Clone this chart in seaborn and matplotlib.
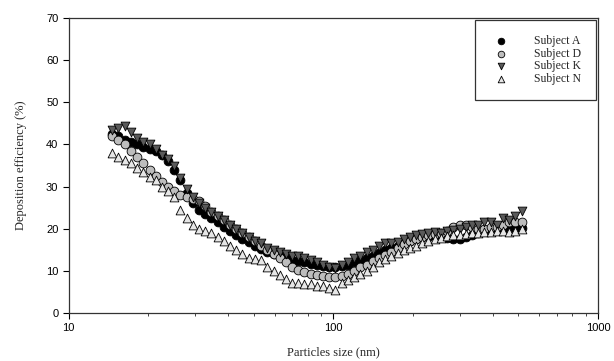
import pandas as pd
import seaborn as sns
import matplotlib.pyplot as plt
from matplotlib.ticker import FixedLocator, FixedFormatter, NullFormatter, LogLocator

# particle sizes (nm)
size_nm = [14.6, 15.4, 16.3, 17.2, 18.1, 19.1, 20.2, 21.3, 22.5, 23.7,
           25.0, 26.4, 27.9, 29.4, 31.1, 32.8, 34.6, 36.5, 38.5, 40.6,
           42.9, 45.3, 47.8, 50.4, 53.3, 56.2, 59.4, 62.6, 66.1, 69.8,
           73.7, 77.7, 82.0, 86.6, 91.4, 96.5, 101.8, 107.5, 113.4, 119.7,
           126.3, 133.4, 140.7, 148.6, 156.8, 165.5, 174.7, 184.4, 194.6, 205.4,
           216.7, 228.7, 241.4, 254.8, 268.9, 283.9, 299.6, 316.2, 333.8, 352.3,
           371.8, 392.4, 414.2, 437.1, 461.4, 487.0, 514.0]

subject_a = [42.5, 42.0, 41.0, 40.5, 40.0, 39.5, 39.0, 38.5, 37.5, 36.0,
             34.0, 31.5, 28.5, 26.0, 24.5, 23.5, 22.5, 21.5, 20.5, 19.5,
             18.5, 17.5, 16.8, 16.0, 15.3, 14.5, 14.0, 13.5, 13.0, 12.5,
             12.3, 12.0, 11.7, 11.5, 11.2, 11.0, 11.0, 11.2, 11.5, 12.0,
             12.5, 13.0, 13.5, 14.2, 15.0, 15.5, 16.0, 16.5, 17.0, 17.5,
             18.0, 18.0, 18.2, 18.0, 17.8, 17.5, 17.5, 18.0, 18.5, 19.0,
             19.5, 19.5, 20.0, 20.2, 20.0, 20.0, 20.2]

subject_d = [42.0, 41.0, 40.0, 38.5, 37.0, 35.5, 34.0, 32.5, 31.0, 30.0,
             29.0, 28.0, 27.5, 27.0, 26.5, 25.5, 24.0, 23.0, 22.0, 21.0,
             20.0, 19.0, 18.0, 17.0, 16.0, 15.0, 14.0, 13.0, 12.0, 11.0,
             10.3, 9.8, 9.3, 9.0, 8.8, 8.5, 8.5, 8.8, 9.2, 10.0,
             10.8, 11.5, 12.3, 13.0, 13.8, 14.5, 15.5, 16.3, 17.0, 17.5,
             18.0, 18.5, 18.8, 19.0, 19.5, 20.5, 21.0, 20.8, 20.5, 20.0,
             20.0, 20.3, 20.5, 21.0, 21.5, 21.5, 21.7]

subject_k = [43.5, 44.0, 44.3, 43.0, 41.5, 40.5, 40.0, 39.0, 37.5, 36.5,
             35.0, 32.0, 29.5, 27.5, 26.0, 25.0, 24.0, 23.0, 22.0, 21.0,
             20.0, 19.0, 18.0, 17.2, 16.5, 15.5, 15.0, 14.5, 14.0, 13.5,
             13.5, 13.0, 12.5, 12.0, 11.5, 11.0, 10.7, 11.5, 12.2, 13.0,
             13.5, 14.5, 15.0, 15.8, 16.5, 16.6, 16.8, 17.5, 18.0, 18.5,
             18.8, 19.0, 19.2, 19.0, 19.5, 19.8, 20.0, 20.5, 21.0, 21.0,
             21.5, 21.5, 21.0, 22.5, 22.0, 23.0, 24.3]

subject_n = [38.0, 37.0, 36.3, 35.5, 34.5, 33.5, 32.3, 31.5, 30.0, 29.0,
             27.5, 24.5, 22.5, 21.0, 20.0, 19.5, 19.0, 18.0, 17.0, 16.0,
             15.0, 14.0, 13.0, 12.8, 12.5, 11.0, 10.0, 9.0, 8.0, 7.0,
             7.0, 6.8, 6.8, 6.5, 6.3, 6.0, 5.5, 7.0, 7.8, 8.5,
             9.3, 10.0, 11.0, 12.0, 12.8, 13.5, 14.3, 15.0, 15.5, 16.0,
             16.5, 17.0, 17.5, 17.8, 18.2, 18.5, 18.5, 18.8, 19.0, 19.0,
             19.2, 19.3, 19.5, 19.5, 19.3, 19.5, 20.0]

labels = ['Subject A', 'Subject D', 'Subject K', 'Subject N']
series = [subject_a, subject_d, subject_k, subject_n]
colors = ['#000000', '#bdbdbd', '#5a5a5a', '#e6e6e6']
markers = ['o', 'o', 'v', '^']

sns.set_style("ticks")

fig = plt.figure(figsize=(6.14, 3.61), dpi=100)
ax = fig.add_axes([0.112, 0.133, 0.862, 0.817])

for lab, vals, c, m in zip(labels, series, colors, markers):
    df = pd.DataFrame({'size': size_nm, 'eff': vals})
    sns.scatterplot(data=df, x='size', y='eff', ax=ax, color=c, marker=m,
                    s=40, edgecolor='black', linewidth=0.6, label=lab)

ax.set_xscale('log')
ax.set_xlim(10, 1000)
ax.set_ylim(0, 70)
ax.xaxis.set_major_locator(FixedLocator([10, 100, 1000]))
ax.xaxis.set_major_formatter(FixedFormatter(['10', '100', '1000']))
ax.xaxis.set_minor_locator(LogLocator(base=10, subs=range(2, 10)))
ax.xaxis.set_minor_formatter(NullFormatter())
ax.set_yticks(range(0, 71, 10))

ax.tick_params(axis='both', which='major', direction='out', length=4, width=0.8,
               labelsize=8, colors='black')
ax.tick_params(axis='x', which='minor', direction='out', length=2.5, width=0.6)
for lbl in ax.get_xticklabels() + ax.get_yticklabels():
    lbl.set_family('Liberation Sans')
for sp in ax.spines.values():
    sp.set_color('#333333')
    sp.set_linewidth(0.9)

ax.set_xlabel('Particles size (nm)', family='Liberation Serif', fontsize=9, labelpad=9)
ax.set_ylabel('Deposition efficiency (%)', family='Liberation Serif', fontsize=9, labelpad=14)

leg = ax.legend(loc='upper right', borderaxespad=0.15, frameon=True, fancybox=False,
                edgecolor='#333333', framealpha=1, handletextpad=1.9, borderpad=1.3,
                labelspacing=0.05, handlelength=1.8,
                prop={'family': 'Liberation Serif', 'size': 8.5},
                markerscale=0.75)
leg.get_frame().set_linewidth(0.9)

plt.savefig('out.png', dpi=100)
